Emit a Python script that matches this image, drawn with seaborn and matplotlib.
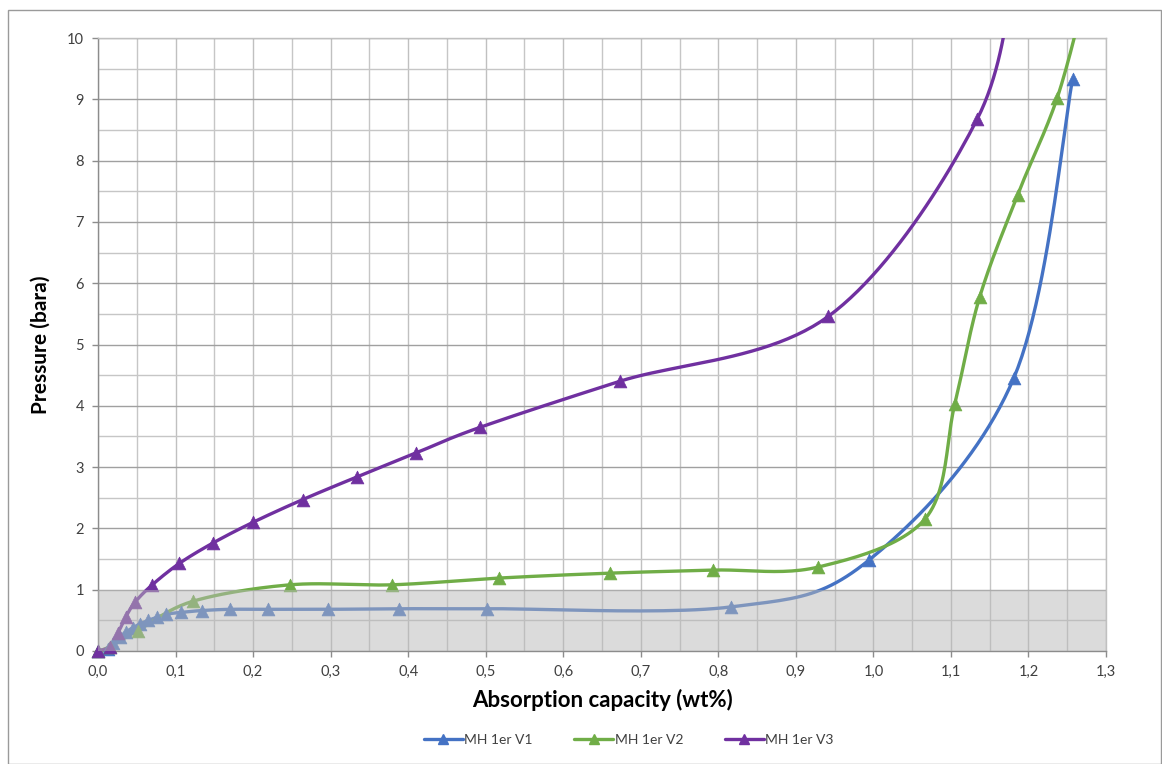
import numpy as np
import pandas as pd
import matplotlib
matplotlib.use('Agg')
import matplotlib.pyplot as plt
import seaborn as sns
from matplotlib.lines import Line2D
from matplotlib.patches import Rectangle
from matplotlib.ticker import MultipleLocator, FuncFormatter

# Values (wt%, bara)
v1_x = [0.0, 0.013, 0.019, 0.028, 0.036, 0.045, 0.054, 0.065, 0.076, 0.088,
        0.107, 0.134, 0.170, 0.219, 0.297, 0.388, 0.502, 0.817, 0.994, 1.181, 1.257]
v1_y = [0.0, 0.04, 0.13, 0.23, 0.31, 0.38, 0.44, 0.50, 0.55, 0.60,
        0.63, 0.66, 0.68, 0.68, 0.68, 0.69, 0.69, 0.72, 1.48, 4.45, 9.33]

v2_x = [0.0, 0.015, 0.051, 0.122, 0.248, 0.379, 0.517, 0.660, 0.793, 0.929,
        1.067, 1.105, 1.137, 1.186, 1.237, 1.275]
v2_y = [0.0, 0.07, 0.33, 0.81, 1.08, 1.08, 1.19, 1.27, 1.32, 1.37,
        2.16, 4.03, 5.77, 7.44, 9.02, 10.8]

v3_x = [0.0, 0.015, 0.026, 0.036, 0.048, 0.070, 0.105, 0.148, 0.200, 0.264,
        0.334, 0.410, 0.493, 0.673, 0.942, 1.134, 1.185]
v3_y = [0.0, 0.07, 0.30, 0.56, 0.80, 1.08, 1.43, 1.76, 2.10, 2.47,
        2.84, 3.23, 3.65, 4.40, 5.46, 8.68, 11.5]

series_names = ["MH 1er V1", "MH 1er V2", "MH 1er V3"]
series_colors = ["#4472C4", "#70AD47", "#7030A0"]


def smooth(xs, ys, steps=24):
    # Catmull-Rom path through the points, like Excel's "smoothed line"
    p = np.column_stack([xs, ys]).astype(float)
    p = np.vstack([p[0], p, p[-1]])
    out = []
    t = np.linspace(0, 1, steps, endpoint=False)[:, None]
    for i in range(1, len(p) - 2):
        p0, p1, p2, p3 = p[i - 1], p[i], p[i + 1], p[i + 2]
        m1 = (p2 - p0) / 2
        m2 = (p3 - p1) / 2
        h00 = 2 * t**3 - 3 * t**2 + 1
        h10 = t**3 - 2 * t**2 + t
        h01 = -2 * t**3 + 3 * t**2
        h11 = t**3 - t**2
        out.append(h00 * p1 + h10 * m1 + h01 * p2 + h11 * m2)
    out.append(p[-2][None, :])
    out = np.vstack(out)
    return out[:, 0], out[:, 1]


sns.set_theme(style="white")
plt.rcParams['font.family'] = ['Lato', 'DejaVu Sans']

fig = plt.figure(figsize=(11.62, 7.64), dpi=100)
ax = fig.add_axes([98 / 1162, 1 - 651 / 764, (1106 - 98) / 1162, (651 - 38) / 764])

# outer chart border
fig.patches.append(Rectangle((8 / 1162, 0), 1 - 8 / 1162 - 0.001, 1 - 10 / 764,
                             transform=fig.transFigure, fill=False,
                             edgecolor="#9a9a9a", lw=1.0))

ax.set_xlim(0, 1.3)
ax.set_ylim(0, 10)
ax.xaxis.set_major_locator(MultipleLocator(0.1))
ax.xaxis.set_minor_locator(MultipleLocator(0.05))
ax.yaxis.set_major_locator(MultipleLocator(1))
ax.yaxis.set_minor_locator(MultipleLocator(0.5))
ax.xaxis.set_major_formatter(FuncFormatter(lambda v, _: f"{v:.1f}".replace('.', ',')))
ax.yaxis.set_major_formatter(FuncFormatter(lambda v, _: f"{v:.0f}"))

ax.grid(True, which='major', axis='y', color="#a0a0a0", lw=1.0)
ax.grid(True, which='minor', axis='y', color="#c6c6c6", lw=1.0)
ax.grid(True, which='major', axis='x', color="#c0c0c0", lw=1.0)
ax.grid(True, which='minor', axis='x', color="#c6c6c6", lw=1.0)
ax.set_axisbelow(True)

for s in ['top', 'right']:
    ax.spines[s].set_color("#c0c0c0")
for s in ['left', 'bottom']:
    ax.spines[s].set_color("#8c8c8c")
for s in ax.spines.values():
    s.set_linewidth(1.0)

ax.tick_params(axis='both', which='major', length=4, width=1, color="#8c8c8c",
               labelsize=10.5, labelcolor="#404040", direction='out', pad=6)
ax.tick_params(axis='both', which='minor', length=0)
ax.tick_params(left=True, bottom=True)

all_x = [v1_x, v2_x, v3_x]
all_y = [v1_y, v2_y, v3_y]
for xs, ys, name, col in zip(all_x, all_y, series_names, series_colors):
    sx, sy = smooth(xs, ys)
    sns.lineplot(x=sx, y=sy, sort=False, estimator=None, ax=ax, color=col,
                 lw=2.4, zorder=3, legend=False)
    df = pd.DataFrame({"x": xs, "y": ys})
    df = df[df["y"] <= 10]
    sns.scatterplot(data=df, x="x", y="y", ax=ax, marker="^", s=85, color=col,
                    edgecolor=col, linewidth=0.5, zorder=4, legend=False,
                    clip_on=False)

# grey band up to 1 bara, drawn over the curves
ax.axhspan(0, 1, color="#b8b8b8", alpha=0.5, lw=0, zorder=6)

ax.set_xlabel("Absorption capacity (wt%)", fontsize=16, fontweight='bold',
              color="#000000", labelpad=7)
ax.set_ylabel("Pressure (bara)", fontsize=15, fontweight='bold',
              color="#000000", labelpad=12)

handles = [Line2D([0], [0], color=c, lw=2.4, marker="^", markersize=7)
           for c in series_colors]
fig.legend(handles, series_names, loc='center', bbox_to_anchor=(0.541, 0.031),
           ncol=3, frameon=False, fontsize=10, handlelength=2.8,
           handletextpad=0.1, columnspacing=3.0, labelcolor="#404040")

fig.savefig("out.png", dpi=100)
